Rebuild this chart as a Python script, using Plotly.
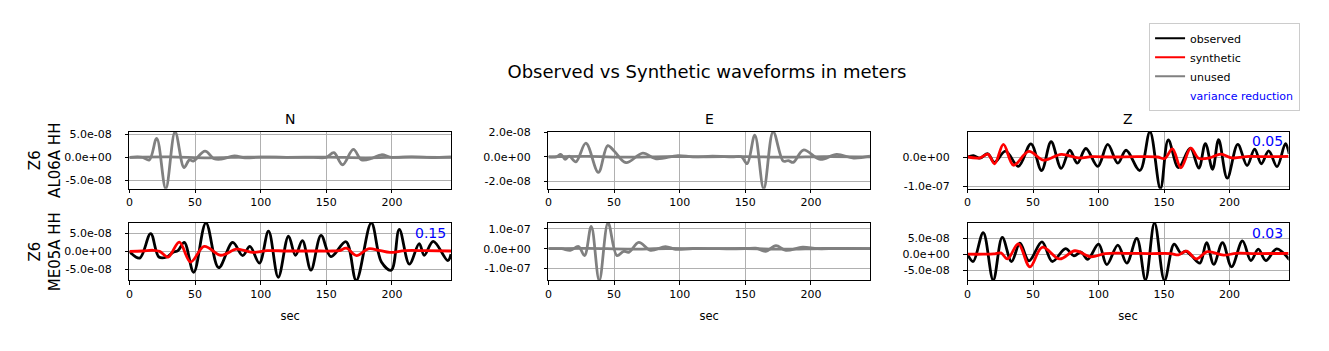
import plotly.graph_objects as go

# ---------------- data (amplitudes in units of 1e-8 m, time in sec) ----------------
SCALE = 1e-8
T_MAX = 245

# Row 1 : Z6 AL06A HH
n1_obs_t = [0, 10, 15.2, 20.8, 27.7, 34.8, 41.6, 45.7, 48.7, 57.6, 64.5, 70, 80, 88, 100, 120, 140, 150,
            155.8, 162.4, 170.6, 176.9, 185, 192, 200, 215, 230, 245]
n1_obs_v = [0, 0, -0.55, 4.1, -6.75, 5.5, -2.2, -0.55, -0.8, 1.35, -0.3, -0.4, 0.3, -0.1, 0.05, 0, 0, 0,
            1.0, -1.6, 1.7, -0.55, -0.2, 0.55, 0, 0.1, -0.05, 0.1]
n1_syn_t = [0, 30, 60, 90, 120, 150, 180, 210, 245]
n1_syn_v = [0, 0.1, -0.1, 0.05, 0, 0.05, -0.1, 0.05, 0]

e1_obs_t = [0, 6, 9.4, 12.7, 15.8, 20.9, 28.5, 38, 45.1, 50.2, 59.1, 71.9, 82, 98.6, 110, 125, 140, 147,
            151.4, 157.2, 164, 171.2, 178.9, 182.7, 186.5, 194.2, 207, 219.6, 232.4, 245]
e1_obs_v = [0, 0, 0.2, -0.2, 0.05, -0.4, 1.1, -1.25, 0.9, 0.45, -0.47, 0.3, -0.16, 0.1, 0, 0.05, 0, 0,
            -0.55, 1.75, -2.57, 2.02, -0.35, -0.3, -0.45, 0.55, -0.2, 0.2, -0.1, 0.05]
e1_syn_t = [0, 30, 60, 90, 120, 150, 180, 210, 245]
e1_syn_v = [0, 0.03, -0.03, 0.02, 0, 0.02, -0.03, 0.02, 0]

z1_obs_t = [0, 4.5, 9.4, 15.5, 20.5, 29, 38.8, 48.4, 56.5, 63.8, 71.5, 78, 83.8, 90.3, 99.4, 107, 114.7,
            121, 131.5, 139.2, 147.2, 153.2, 161, 170, 176.5, 181.5, 187, 191.6, 198.2, 206.2, 213.3,
            219.1, 224.2, 229.8, 236.2, 242.6, 245.5]
z1_obs_v = [0, 0.5, -0.4, 1.1, -1.8, 2.0, -3.2, 4.5, -4.6, 5.2, -3.9, 2.3, -2.1, 2.9, -3.2, 4.3, -2.1,
            2.3, -4.6, 8.6, -10.8, 5.8, -3.6, 3.0, -3.8, 4.6, -4.2, 5.9, -7.2, 4.3, -2.9,
            2.7, -2.3, 2.1, -3.3, 4.6, 1.0]
z1_syn_t = [0, 9.4, 15.5, 20.7, 27.4, 35.1, 46.8, 58.2, 71.5, 84.6, 95, 110, 130, 145, 150.5, 156.4,
            162.8, 170.4, 176.3, 184.7, 193.3, 201.8, 215, 230, 245]
z1_syn_v = [0, -0.3, 1.0, -2.3, 4.3, -2.8, 1.9, -1.1, 0.9, -0.3, 0.1, 0, 0.1, 0, -0.5, 2.8,
            -3.7, 3.0, -0.4, -0.3, 1.0, -0.3, 0.2, 0.1, 0.2]

# Row 2 : Z6 ME05A HH
n2_obs_t = [0, 7.8, 16.2, 22.5, 28.5, 33, 37, 41.8, 49, 58.3, 68, 78.7, 86.3, 91.8, 99, 106, 113.4,
            121.2, 126.5, 131.8, 138.3, 146, 153.5, 165, 172.8, 184.3, 192, 199.5, 205.6, 213.3,
            220.8, 224.6, 231.5, 242.6, 245]
n2_obs_v = [0, -1.9, 5.0, -1.6, -1.6, -0.3, 0.2, 2.5, -5.9, 8.0, -4.6, 2.5, -1.2, 1.4, -3.3, 5.7, -7.3,
            4.3, -1.1, 3.0, -5.3, 4.5, -1.5, 2.7, -8.2, 8.0, -3.0, -5.3, 6.2, -3.6,
            2.2, -1.1, 2.8, -2.6, -0.8]
n2_syn_t = [0, 10, 18, 23, 29.5, 38, 46.6, 57, 69.5, 81.5, 88, 94, 105, 120, 140, 155, 160, 165.3,
            173, 182, 190, 198.5, 210, 225, 245]
n2_syn_v = [0, 0.1, 0.3, 0.0, -1.6, 2.6, -3.0, 1.4, -1.1, 0.6, 0.2, -0.3, 0.2, 0.1, 0.1, 0.1, 0.2, 0.9,
            -1.2, 0.7, 0.3, -0.3, 0.2, 0.2, 0.1]

e2_obs_t = [0, 10, 16.6, 22.9, 27.5, 32.6, 38.7, 45.4, 52.2, 57.3, 61.2, 68.8, 77.7, 89.2, 96.8, 110,
            130, 150, 158, 165.6, 173.3, 180.9, 193.6, 205, 220, 245]
e2_obs_v = [0, 0, -0.8, 1.1, -3.5, 11.3, -16.0, 13.0, -3.5, -1.3, -1.8, 3.2, -0.8, 1.1, -0.3, 0.1,
            0, 0, 0.3, -1.3, 1.6, -0.8, 0.8, 0, 0.1, 0]
e2_syn_t = [0, 30, 60, 90, 120, 150, 180, 210, 245]
e2_syn_v = [0, 0.2, -0.2, 0.1, 0, 0.1, -0.2, 0.1, 0]

z2_obs_t = [0, 4.3, 12, 19.6, 26.5, 33.6, 40, 46.9, 56.8, 64.7, 74.8, 81.2, 86.6, 91.7, 100, 106.3,
            114.7, 121.5, 129.2, 135.8, 142.7, 150.3, 157.6, 163, 166.5, 171, 177.3, 182.4, 187.9,
            194.6, 201.5, 209.8, 216.2, 221.9, 227.6, 235.9, 245.7]
z2_obs_v = [0, -2.3, 6.8, -8.2, 5.3, -2.3, 3.5, -2.1, 3.9, -2.3, 1.8, -0.5, 0.7, -1.6, 3.2, -3.3,
            2.9, -2.8, 5.0, -8.1, 9.9, -8.3, 3.2, 0.3, 1.0, -0.5, -2.8, 3.7, -3.2,
            3.7, -4.0, 4.2, -2.0, 1.6, -2.0, 1.7, -1.8]
z2_syn_t = [0, 12, 20, 25.5, 30.5, 38.8, 47.6, 57, 70.3, 82, 94, 105, 120, 140, 155, 161, 167.2,
            174.6, 183, 195.5, 205, 220, 245]
z2_syn_v = [0, 0, 0.1, 0.4, -1.5, 3.3, -4.0, 2.2, -1.5, 1.1, -0.8, 0.2, 0.3, 0.2, 0.2, -0.2, 1.0,
            -1.5, 0.8, -0.3, 0.3, 0.2, 0.3]

# variance reduction (None = unused component)
variance_reduction = {"N1": None, "E1": None, "Z1": "0.05", "N2": "0.15", "E2": None, "Z2": "0.03"}

components = ["N", "E", "Z"]
stations = ["Z6<br>AL06A HH", "Z6<br>ME05A HH"]

x_tickvals = [0, 50, 100, 150, 200]
y_ticks = {
    "N1": ([-5, 0, 5], ["-5.0e-08", "0.0e+00", "5.0e-08"]),
    "E1": ([-2, 0, 2], ["-2.0e-08", "0.0e+00", "2.0e-08"]),
    "Z1": ([-10, 0], ["-1.0e-07", "0.0e+00"]),
    "N2": ([-5, 0, 5], ["-5.0e-08", "0.0e+00", "5.0e-08"]),
    "E2": ([-10, 0, 10], ["-1.0e-07", "0.0e+00", "1.0e-07"]),
    "Z2": ([-5, 0, 5], ["-5.0e-08", "0.0e+00", "5.0e-08"]),
}

panels = {
    "N1": (n1_obs_t, n1_obs_v, n1_syn_t, n1_syn_v, False),
    "E1": (e1_obs_t, e1_obs_v, e1_syn_t, e1_syn_v, False),
    "Z1": (z1_obs_t, z1_obs_v, z1_syn_t, z1_syn_v, True),
    "N2": (n2_obs_t, n2_obs_v, n2_syn_t, n2_syn_v, True),
    "E2": (e2_obs_t, e2_obs_v, e2_syn_t, e2_syn_v, False),
    "Z2": (z2_obs_t, z2_obs_v, z2_syn_t, z2_syn_v, True),
}

# ---------------- layout geometry ----------------
W, H = 1329, 351
col_px = [(126.7, 449.0), (546.7, 869.0), (966.7, 1288.5)]
row_px = [(129.5, 188.0), (223.3, 282.5)]

FONT = "DejaVu Sans"
GRAY = "#808080"

fig = go.Figure()
layout = dict(
    width=W, height=H,
    margin=dict(l=0, r=0, t=0, b=0),
    paper_bgcolor="white", plot_bgcolor="white",
    font=dict(family=FONT, color="black", size=11),
    showlegend=True,
)
annotations = []

keys = ["N1", "E1", "Z1", "N2", "E2", "Z2"]
for i, key in enumerate(keys):
    r, c = divmod(i, 3)
    idx = i + 1
    xa = "x" if idx == 1 else f"x{idx}"
    ya = "y" if idx == 1 else f"y{idx}"
    t_o, v_o, t_s, v_s, used = panels[key]
    obs_color = "black" if used else GRAY
    syn_color = "red" if used else GRAY
    fig.add_trace(go.Scatter(x=t_o, y=[v * SCALE for v in v_o], mode="lines",
                             line=dict(color=obs_color, width=2.8, shape="spline", smoothing=1.0),
                             xaxis=xa, yaxis=ya, showlegend=False, hoverinfo="skip"))
    fig.add_trace(go.Scatter(x=t_s, y=[v * SCALE for v in v_s], mode="lines",
                             line=dict(color=syn_color, width=2.8, shape="spline", smoothing=1.0),
                             xaxis=xa, yaxis=ya, showlegend=False, hoverinfo="skip"))

    x0, x1 = col_px[c]
    y0, y1 = row_px[r]
    ymin = min(v_o + v_s) * SCALE
    ymax = max(v_o + v_s) * SCALE
    tv, tt = y_ticks[key]
    xaxis = dict(domain=[x0 / W, x1 / W], anchor=ya, range=[0, T_MAX],
                 tickvals=x_tickvals, ticks="outside", ticklen=3.5, tickwidth=0.8, tickcolor="black",
                 showline=True, linecolor="black", linewidth=0.9, mirror=True,
                 showgrid=True, gridcolor="#b0b0b0", gridwidth=0.8, zeroline=False,
                 tickfont=dict(size=11, family=FONT, color="black"))
    if r == 1:
        xaxis["title"] = dict(text="sec", font=dict(size=11.5, family=FONT, color="black"), standoff=11)
    yaxis = dict(domain=[1 - y1 / H, 1 - y0 / H], anchor=xa, range=[ymin, ymax],
                 tickvals=[v * SCALE for v in tv], ticktext=tt,
                 ticks="outside", ticklen=3.5, tickwidth=0.8, tickcolor="black", ticklabelstandoff=11,
                 showline=True, linecolor="black", linewidth=0.9, mirror=True,
                 showgrid=True, gridcolor="#b0b0b0", gridwidth=0.8, zeroline=False,
                 tickfont=dict(size=11, family=FONT, color="black"))
    if c == 0:
        yaxis["title"] = dict(text=stations[r], font=dict(size=15, family=FONT, color="black"), standoff=0)
    layout["xaxis" if idx == 1 else f"xaxis{idx}"] = xaxis
    layout["yaxis" if idx == 1 else f"yaxis{idx}"] = yaxis

    if r == 0:
        annotations.append(dict(text=components[c], xref=f"{xa} domain", yref=f"{ya} domain",
                                x=0.5, y=1, xanchor="center", yanchor="bottom", yshift=3,
                                showarrow=False, font=dict(size=14, family=FONT, color="black")))
    vr = variance_reduction[key]
    if vr is not None:
        annotations.append(dict(text=vr, xref=f"{xa} domain", yref=f"{ya} domain",
                                x=0.99, y=0.83, xanchor="right", yanchor="middle",
                                showarrow=False, font=dict(size=14, family=FONT, color="blue")))

# legend entries
legend_items = [("observed", "black"), ("synthetic", "red"), ("unused", GRAY)]
for name, col in legend_items:
    fig.add_trace(go.Scatter(x=[None], y=[None], mode="lines", name=name,
                             line=dict(color=col, width=2), xaxis="x3", yaxis="y3"))
fig.add_trace(go.Scatter(x=[None], y=[None], mode="lines",
                         name="<span style='color:blue'>variance reduction</span>",
                         line=dict(color="rgba(0,0,0,0)", width=2), xaxis="x3", yaxis="y3"))

layout["legend"] = dict(x=1300 / W, xanchor="right", y=1 - 62.5 / H, yanchor="middle",
                        bgcolor="white", bordercolor="#cccccc", borderwidth=1,
                        font=dict(size=11, family=FONT, color="black"), tracegroupgap=0)
layout["title"] = dict(text="Observed vs Synthetic waveforms in meters", x=707 / W, xanchor="center",
                       y=1 - 72 / H, yanchor="middle", font=dict(size=18, family=FONT, color="black"))
layout["annotations"] = annotations

fig.update_layout(**layout)
fig.write_html("out.html")
